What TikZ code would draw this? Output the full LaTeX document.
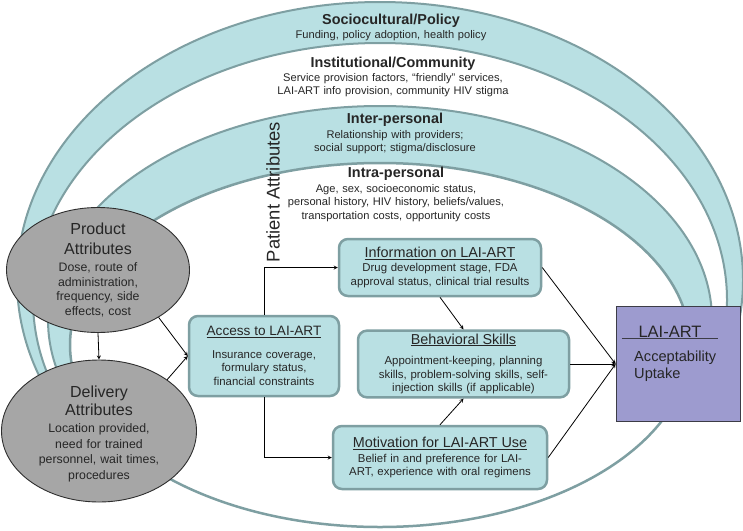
\documentclass[tikz,border=0pt]{standalone}
\usepackage{fontspec}
\setmainfont{Liberation Sans}
\usetikzlibrary{shapes.geometric, arrows}
\usepackage{xcolor}

\definecolor{bandfill}{HTML}{B9E0E3}
\definecolor{bandedge}{HTML}{7E9FA2}
\definecolor{ovalfill}{HTML}{A6A6A6}
\definecolor{ovaledge}{HTML}{2E2E2E}
\definecolor{laifill}{HTML}{9D9BCF}
\definecolor{laiedge}{HTML}{3C3C46}

\newcommand\leveltitle[1]{{\bfseries\fontsize{14.4}{13.5}\selectfont #1}}
\newcommand\boxtitle[2][14.4]{{\fontsize{#1}{13.5}\selectfont\underline{#2}}}

\begin{document}
\begin{tikzpicture}[x=1pt, y=-1pt,
  rim/.style={draw=bandedge, line width=2pt},
  factorbox/.style={draw=bandedge, fill=bandfill, line width=2.5pt, rounded corners=9pt,
    inner sep=3pt, align=center, text=black!85, font=\fontsize{11.4}{13.5}\selectfont},
  attribute/.style={ellipse, draw=ovaledge, fill=ovalfill, line width=0.9pt, inner sep=0pt},
  attrtext/.style={anchor=north, inner sep=0pt, text width=130pt, align=center, text=black!85},
  level/.style={anchor=north, inner sep=0pt, text width=280pt, align=center, text=black!85,
    font=\fontsize{11.1}{13.5}\selectfont}]
  \useasboundingbox (0,0) rectangle (743,530);
  \fill[white] (0,0) rectangle (743,530);

  % levels of influence
  \begin{scope}
    \clip (0,0) rectangle (743,380);
    \fill[bandfill, even odd rule] (380,280) ellipse [x radius=363pt, y radius=278pt]
      (380,300) ellipse [x radius=347pt, y radius=257pt];
    \fill[bandfill, even odd rule] (380,320) ellipse [x radius=332pt, y radius=214pt]
      (380,345) ellipse [x radius=310pt, y radius=182pt];
    \draw[rim] (380,280) ellipse [x radius=363pt, y radius=278pt];
    \draw[rim] (380,300) ellipse [x radius=347pt, y radius=257pt];
    \draw[rim] (380,320) ellipse [x radius=332pt, y radius=214pt];
  \end{scope}
  \draw[rim, line width=2.5pt] (380,345) ellipse [x radius=310pt, y radius=182pt];

  \node[level] (policy) at (391,13.7) {\leveltitle{Sociocultural/Policy}\\[0.3pt]
    Funding, policy adoption, health policy};
  \node[level] (community) at (393,56.7) {\leveltitle{Institutional/Community}\\[0.3pt]
    Service provision factors, “friendly” services,\\ LAI-ART info provision, community HIV stigma};
  \node[level] (interpersonal) at (395,112.7) {\leveltitle{Inter-personal}\\[1.3pt]
    Relationship with providers;\\ social support; stigma/disclosure};
  \node[level] (intrapersonal) at (396,166.7) {\leveltitle{Intra-personal}\\[1.3pt]
    Age, sex, socioeconomic status,\\ personal history, HIV history, beliefs/values,\\
    transportation costs, opportunity costs};

  \node[rotate=90, text=black!85, font=\fontsize{18.4}{20}\selectfont] (patient) at (273,192) {Patient Attributes};

  % product and delivery
  \node[attribute, minimum width=183pt, minimum height=125pt] (product) at (98,270) {};
  \node[attribute, minimum width=195pt, minimum height=142pt] (delivery) at (99,431) {};
  \node[attrtext, font=\fontsize{12.3}{14.8}\selectfont] (producttext) at (98,223.1)
    {\fontsize{16}{14.8}\selectfont Product\\[5pt] Attributes\\[1.9pt]
     \fontsize{12.3}{14.8}\selectfont Dose, route of\\ administration,\\ frequency, side\\ effects, cost};
  \node[attrtext, font=\fontsize{12.3}{15.6}\selectfont] (deliverytext) at (99,386.1)
    {\fontsize{16}{15.6}\selectfont Delivery\\[2.4pt] Attributes\\[1pt]
     \fontsize{12.3}{15.6}\selectfont Location provided,\\ need for trained\\ personnel, wait times,\\ procedures};

  % model boxes
  \node[factorbox, minimum width=150pt, minimum height=80pt, text width=144pt] (access) at (264,356)
    {\boxtitle[13.6]{Access to LAI-ART}\\[8.8pt] Insurance coverage,\\ formulary status,\\ financial constraints};
  \node[factorbox, minimum width=202pt, minimum height=57pt, text width=196pt] (info) at (440,267.5)
    {\boxtitle{Information on LAI-ART}\\[0.4pt] Drug development stage, FDA\\ approval status, clinical trial results};
  \node[factorbox, minimum width=211pt, minimum height=64pt, text width=205pt] (behav) at (463.5,364)
    {\boxtitle{Behavioral Skills}\\[7.4pt] Appointment-keeping, planning\\ skills, problem-solving skills, self-\\ injection skills (if applicable)};
  \node[factorbox, minimum width=214pt, minimum height=63pt, text width=208pt] (motivation) at (440,457.5)
    {\boxtitle{Motivation for LAI-ART Use}\\[1.4pt] Belief in and preference for LAI-\\ ART, experience with oral regimens};

  % outcome
  \node[draw=laiedge, fill=laifill, line width=1.3pt, minimum width=124.5pt, minimum height=115pt,
    inner sep=0pt] (lai) at (678.5,364) {};
  \node[inner sep=1pt, text width=94pt, align=center, text=black!85,
    font=\fontsize{16.5}{18}\selectfont] (laititle) at (670,332) {LAI-ART};
  \draw[line width=1.2pt, laiedge] (laititle.south west) -- (laititle.south east);
  \node[anchor=west, inner sep=1pt, align=left, text=black!85,
    font=\fontsize{14.6}{17}\selectfont] (laitext) at (633,366) {Acceptability\\Uptake};

  \path[-stealth, line width=0.8pt]
    (product.south) edge (delivery.north)
    (product.-38) edge (access.west)
    (delivery.37) edge (access.west)
    (info.south) edge (behav.north)
    (motivation.north) edge (behav.south)
    (info.east) edge (lai.west)
    (behav.east) edge (lai.west)
    (motivation.east) edge (lai.west)
    ;
  \draw[-stealth, line width=0.8pt] (access.north) |- (info.west);
  \draw[-stealth, line width=0.8pt] (access.south) |- (motivation.west);
\end{tikzpicture}
\end{document}
